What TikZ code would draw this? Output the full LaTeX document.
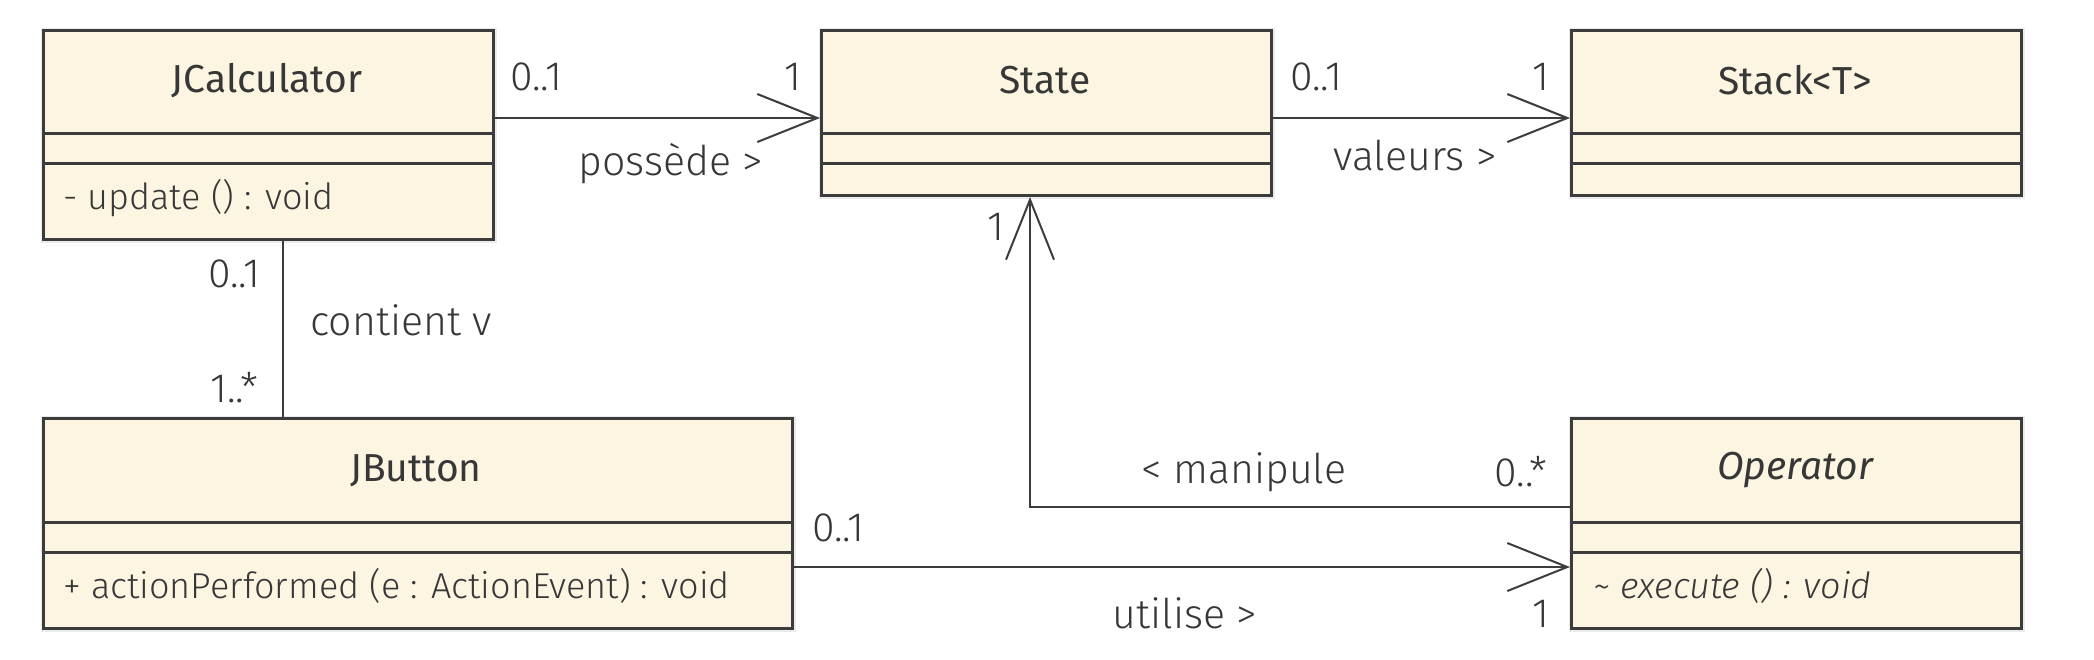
\documentclass[tikz,border=0pt]{standalone}
\usepackage{fontspec}
\setmainfont{Fira Sans}
\newfontfamily\titlefont{Fira Sans}
\newfontfamily\labfont{Fira Sans Light}
\usetikzlibrary{arrows.meta}
\definecolor{classfill}{RGB}{251,245,225}
\definecolor{linecol}{RGB}{60,60,60}
\definecolor{txtcol}{RGB}{55,55,55}
\begin{document}
\begin{tikzpicture}[x=0.5pt,y=-0.5pt,
  classbox/.style={draw=linecol, fill=classfill, line width=1.5pt, inner sep=0pt, anchor=north west,
    preaction={draw=black!8, line width=3pt}},
  divider/.style={draw=linecol, line width=1.5pt},
  ctitle/.style={font=\titlefont\fontsize{19.5}{22}\selectfont, text=txtcol, inner sep=0pt},
  cop/.style={font=\labfont\fontsize{18}{21}\selectfont, text=txtcol, inner sep=0pt, anchor=west},
  lab/.style={font=\labfont\fontsize{20.5}{24}\selectfont, text=txtcol, inner sep=0pt},
  assoc/.style={draw=linecol, line width=1.3pt},
  navig/.style={assoc, -{Straight Barb[length=30pt,width=24pt,line width=1pt]}},
]
\useasboundingbox (0,0) rectangle (2094,659);

% classes
\node[classbox, minimum width=225pt, minimum height=104.5pt] (jcalc) at (42,29) {};
\draw[divider] (42,133) -- (492,133);
\draw[divider] (42,163) -- (492,163);
\node[ctitle] (jcalc-t) at (267,81) {JCalculator};
\node[cop] (jcalc-o) at (63,198) {- update () : void};

\node[classbox, minimum width=225pt, minimum height=82.5pt] (state) at (820,29) {};
\draw[divider] (820,133) -- (1270,133);
\draw[divider] (820,163) -- (1270,163);
\node[ctitle] (state-t) at (1045,80) {State};

\node[classbox, minimum width=225pt, minimum height=82.5pt] (stack) at (1570,29) {};
\draw[divider] (1570,133) -- (2020,133);
\draw[divider] (1570,163) -- (2020,163);
\node[ctitle] (stack-t) at (1795,80) {Stack<T>};

\node[classbox, minimum width=374.5pt, minimum height=105pt] (jbutton) at (42,417) {};
\draw[divider] (42,522) -- (791,522);
\draw[divider] (42,552) -- (791,552);
\node[ctitle] (jbutton-t) at (416,471) {JButton};
\node[cop] (jbutton-o) at (63,586) {+ actionPerformed (e : ActionEvent) : void};

\node[classbox, minimum width=225pt, minimum height=105pt] (operator) at (1570,417) {};
\draw[divider] (1570,522) -- (2020,522);
\draw[divider] (1570,552) -- (2020,552);
\node[ctitle, font=\titlefont\itshape\fontsize{19.5}{22}\selectfont] (operator-t) at (1795,470) {Operator};
\node[cop, font=\labfont\itshape\fontsize{18}{21}\selectfont] (operator-o) at (1593,586) {\textasciitilde{} execute () : void};

% connectors
\coordinate (yA) at (0,118);
\coordinate (xC) at (283,0);
\coordinate (yM) at (0,507);
\coordinate (xM) at (1030,0);
\coordinate (yU) at (0,567);
\draw[navig] (jcalc.east |- yA) -- (state.west |- yA);
\draw[navig] (state.east |- yA) -- (stack.west |- yA);
\draw[assoc] (jcalc.south -| xC) -- (jbutton.north -| xC);
\draw[navig] (operator.west |- yM) -- (xM |- yM) -- (state.south -| xM);
\draw[navig] (jbutton.east |- yU) -- (operator.west |- yU);

% labels
\node[lab] (l1) at (536,77) {0..1};
\node[lab] (l2) at (793,77) {1};
\node[lab] (l3) at (671,164) {possède >};
\node[lab] (l4) at (1316,77) {0..1};
\node[lab] (l5) at (1541,77) {1};
\node[lab] (l6) at (1415,155) {valeurs >};
\node[lab] (l7) at (234,274) {0..1};
\node[lab] (l8) at (401,320) {contient v};
\node[lab] (l9) at (234,388) {1..*};
\node[lab] (l10) at (996,227) {1};
\node[lab] (l11) at (1244,472) {< manipule};
\node[lab] (l12) at (1521,472) {0..*};
\node[lab] (l13) at (838,528) {0..1};
\node[lab] (l14) at (1185,613) {utilise >};
\node[lab] (l15) at (1541,614) {1};
\end{tikzpicture}
\end{document}
